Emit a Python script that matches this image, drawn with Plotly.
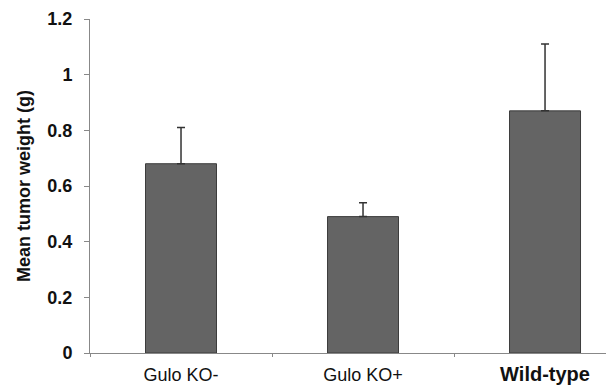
import plotly.graph_objects as go

categories = ["Gulo KO-", "Gulo KO+", "Wild-type"]
tick_text = ["Gulo KO-", "Gulo KO+", "<b><span style='font-size:20px'>Wild-type</span></b>"]
mean_weight = [0.68, 0.49, 0.87]
sem_upper = [0.13, 0.05, 0.24]
y_ticks = [0, 0.2, 0.4, 0.6, 0.8, 1.0, 1.2]
y_tick_text = ["<b>0</b>", "<b>0.2</b>", "<b>0.4</b>", "<b>0.6</b>", "<b>0.8</b>", "<b>1</b>", "<b>1.2</b>"]

fig = go.Figure()
fig.add_trace(go.Bar(
    x=categories,
    y=mean_weight,
    marker=dict(color="#646464", line=dict(color="#3c3c3c", width=1)),
    error_y=dict(type="data", array=sem_upper, symmetric=False,
                 arrayminus=[0, 0, 0], color="#333333", thickness=1.5, width=4),
    width=0.39,
))

fig.update_layout(
    width=606, height=385,
    margin=dict(l=90, r=0, t=19, b=32),
    paper_bgcolor="white", plot_bgcolor="white",
    showlegend=False,
    font=dict(family="Liberation Sans, Arial, sans-serif", color="#111111"),
    xaxis=dict(
        type="category",
        range=[-0.5, 2.335],
        tickvals=categories, ticktext=tick_text,
        tickson="boundaries",
        ticks="outside", ticklen=3, tickcolor="#888888",
        showline=True, linecolor="#888888", linewidth=1,
        showgrid=False, zeroline=False,
        ticklabelstandoff=5,
        tickfont=dict(size=18, color="#111111"),
    ),
    yaxis=dict(
        range=[0, 1.2],
        tickvals=y_ticks, ticktext=y_tick_text,
        ticks="outside", ticklen=5, tickcolor="#888888",
        showline=True, linecolor="#888888", linewidth=1,
        showgrid=False, zeroline=False,
        ticklabelstandoff=8,
        tickfont=dict(size=18, color="#111111"),
        title=dict(text="<b>Mean tumor weight (g)</b>", font=dict(size=18, color="#111111"), standoff=12),
    ),
)

fig.write_html("out.html")
